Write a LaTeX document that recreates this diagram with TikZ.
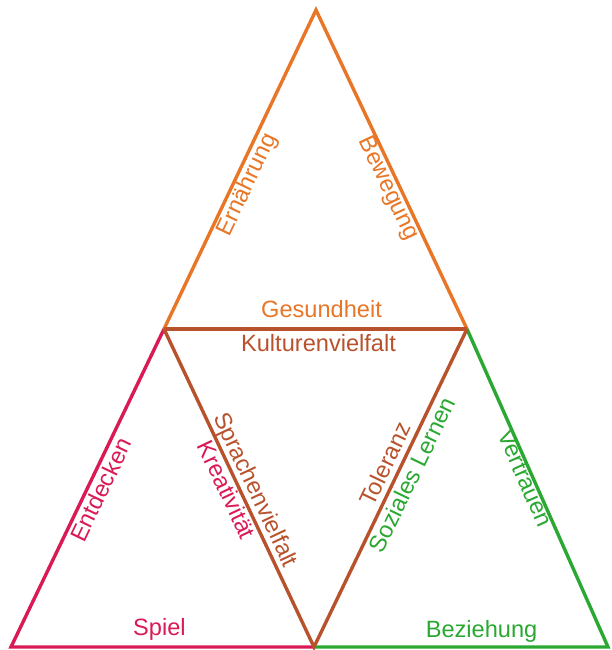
\documentclass[tikz,border=0pt]{standalone}
\usepackage{fontspec}
\setmainfont{Liberation Sans}
\definecolor{orangeline}{RGB}{232,118,38}
\definecolor{brownline}{RGB}{184,82,44}
\definecolor{redline}{RGB}{218,26,84}
\definecolor{greenline}{RGB}{42,168,50}

\begin{document}
\begin{tikzpicture}[x=0.5pt, y=-0.5pt, line width=1.7pt, line join=miter,
    lbl/.style={font=\fontsize{11.8}{14}\selectfont, text height=.72em, text depth=.21em, inner sep=0pt, sloped}]
            \useasboundingbox (0,0) rectangle (612,650);

            \coordinate (T) at (316,10);
            \coordinate (ML) at (164,329);
            \coordinate (MR) at (467,329);
            \coordinate (BL) at (11,647);
            \coordinate (BM) at (314,647);
            \coordinate (BR) at (608,647);

            % top triangle
            \draw[orangeline] (ML) -- node[lbl, below=1.8pt, pos=.47] (ern) {Ernährung}
                (T) -- node[lbl, below=0.5pt, pos=.545] (bew) {Bewegung} (MR);

            % left triangle
            \draw[redline] (ML) -- node[lbl, below=2.5pt, pos=.488] (ent) {Entdecken}
                (BL) -- node[lbl, above=3pt, pos=.49] (spi) {Spiel} (BM);

            % right triangle
            \draw[greenline] (MR) -- node[lbl, below=-0.5pt, pos=.46] (ver) {Vertrauen}
                (BR) -- node[lbl, above=2pt, pos=.43] (bez) {Beziehung} (BM);

            % middle triangle
            \draw[brownline] (ML) -- node[lbl, above=3pt, pos=.52, text=orangeline] (ges) {Gesundheit}
                node[lbl, below=3pt, pos=.51] (kul) {Kulturenvielfalt} (MR);
            \draw[brownline] (ML) -- node[lbl, below=2pt, pos=.49, text=redline] (kre) {Kreativität}
                node[lbl, above=0.5pt, pos=.525] (spr) {Sprachenvielfalt}
                (BM) -- node[lbl, above=0.5pt, pos=.555] (tol) {Toleranz}
                node[lbl, below=3pt, pos=.56, text=greenline] (soz) {Soziales Lernen} (MR);

        \end{tikzpicture}
\end{document}
